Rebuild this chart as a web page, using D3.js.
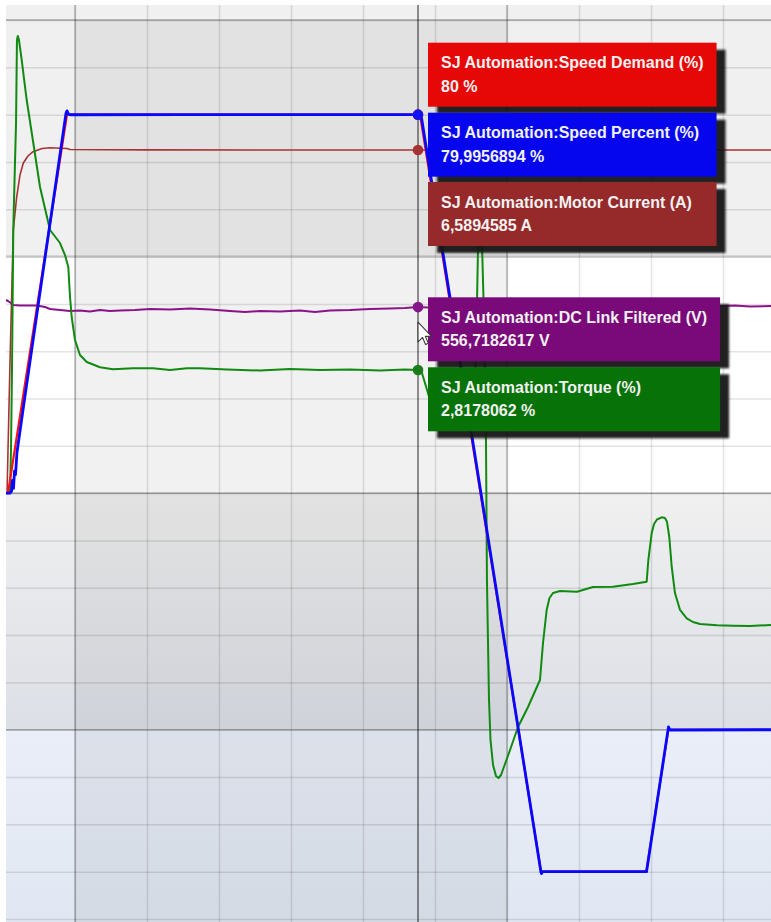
<!DOCTYPE html>
<html>
<head>
<meta charset="utf-8">
<script src="https://cdn.jsdelivr.net/npm/d3@7"></script>
<style>
  html, body { margin: 0; padding: 0; background: #ffffff; }
  svg { display: block; }
  .tip-text { font-family: "Liberation Sans", Arial, sans-serif; font-weight: bold; font-size: 16px; fill: #f1f1f1; }
</style>
</head>
<body>
<svg id="chart" width="771" height="922"></svg>
<script>
// ---- Trace data: time in seconds, values in each channel's own unit ----

// Speed Demand (%)
const speedDemandT = [0.042, 0.069, 0.889, 5.764, 5.792, 7.472, 8.935, 9.240, 10.667];
const speedDemandV = [0, 0, 80, 80, 80, -80, -80, -50, -50];

// Speed Percent (%)
const speedPercentT = [0.042, 0.097, 0.118, 0.132, 0.146, 0.160, 0.174, 0.194, 0.278, 0.625, 0.875, 0.889, 0.910, 0.931, 2.5, 4.0, 5.764, 5.806, 7.472, 7.479, 7.493, 8.938, 9.243, 9.264, 10.667];
const speedPercentV = [0, 0, 0.4, 2.7, 1.0, 4.7, 3.9, 8.6, 17.6, 54.1, 80.3, 80.8, 80.1, 79.98, 80.0, 79.99, 79.9956894, 79.99, -80.1, -80.4, -80.0, -80.0, -49.4, -50.06, -50.0];

// Motor Current (A)
const motorCurrentT = [0.042, 0.056, 0.097, 0.143, 0.190, 0.236, 0.282, 0.347, 0.417, 0.542, 0.653, 0.889, 0.931, 2.0, 3.5, 5.764, 7.0, 9.0, 10.667];
const motorCurrentV = [0, 0, 2.497, 5.052, 5.686, 6.109, 6.339, 6.474, 6.557, 6.618, 6.633, 6.618, 6.599, 6.592, 6.588, 6.5894585, 6.590, 6.588, 6.589];

// DC Link Filtered (V)
const dcLinkT = [0.042, 0.069, 0.111, 0.139, 0.236, 0.472, 0.583, 0.653, 0.792, 0.931, 1.069, 1.208, 1.347, 1.486, 1.625, 1.833, 2.042, 2.319, 2.597, 2.875, 3.153, 3.361, 3.569, 3.847, 4.125, 4.333, 4.542, 4.819, 5.097, 5.375, 5.583, 5.764, 5.903, 8.292, 9.958, 10.167, 10.375, 10.667];
const dcLinkV = [558.22, 558.01, 557.59, 557.17, 557.06, 557.06, 556.74, 556.32, 556.11, 555.90, 556.00, 555.79, 556.11, 555.90, 556.00, 556.11, 556.32, 556.21, 556.42, 556.21, 555.90, 555.68, 555.90, 555.79, 556.00, 555.68, 556.00, 556.11, 556.32, 556.42, 556.53, 556.7182617, 556.63, 556.74, 556.95, 557.06, 556.84, 556.95];

// Torque (%)
const torqueT = [0.042, 0.097, 0.111, 0.125, 0.143, 0.153, 0.181, 0.194, 0.206, 0.222, 0.260, 0.329, 0.421, 0.514, 0.653, 0.792, 0.861, 0.907, 0.931, 0.954, 1.000, 1.069, 1.163, 1.347, 1.528, 1.806, 2.083, 2.319, 2.556, 2.736, 3.111, 3.569, 3.986, 4.403, 4.819, 5.236, 5.583, 5.764,
  5.819, 5.931, 6.028, 6.208, 6.417, 6.542, 6.576, 6.597, 6.625, 6.653, 6.674, 6.708, 6.722, 6.750, 6.771, 6.806, 6.847, 6.882, 6.917, 6.972, 7.042, 7.153, 7.292, 7.458, 7.500, 7.551, 7.590, 7.639, 7.736, 7.972, 8.194, 8.472, 8.750, 8.940, 8.963, 9.010, 9.042, 9.083, 9.149, 9.194, 9.222, 9.254, 9.288, 9.333, 9.403, 9.496, 9.583, 9.681, 9.917, 10.139, 10.375, 10.667];
const torqueV = [0, 0, 0.985, 2.818, 6.025, 6.712, 8.476, 10.377, 10.469, 10.377, 9.919, 9.003, 8.018, 7.010, 6.025, 5.727, 5.452, 5.177, 4.490, 4.032, 3.505, 3.161, 3.001, 2.880, 2.834, 2.857, 2.857, 2.818, 2.857, 2.857, 2.829, 2.806, 2.841, 2.818, 2.829, 2.806, 2.829, 2.8178062,
  2.749, 2.131, 1.558, 1.489, 1.512, 1.535, 3.734, 5.567, 6.369, 5.681, 4.421, 1.214, -2.062, -4.742, -5.658, -6.231, -6.483, -6.529, -6.460, -6.208, -5.887, -5.361, -4.902, -4.284, -3.436, -2.680, -2.405, -2.291, -2.245, -2.261, -2.153, -2.146, -2.087, -2.032, -1.535, -0.916, -0.710, -0.607, -0.557, -0.573, -0.657, -1.008, -1.695, -2.291, -2.680, -2.870, -2.955, -3.001, -3.031, -3.040, -3.047, -3.024];

// Channel names, units and the readout at the cursor
const channelNames = ["Speed Demand", "Speed Percent", "Motor Current", "DC Link Filtered", "Torque"];
const channelUnits = ["%", "%", "A", "V", "%"];
const cursorTime = 5.764;
const cursorValues = [80, 79.9956894, 6.5894585, 556.7182617, 2.8178062];

// Time grid and highlighted time span
const timeTicks = [1, 2, 3, 4, 5, 6, 7, 8, 9, 10];
const speedTicks = d3.range(-90, 101, 10);
const bandEdges = [100, 50, 0, -50];
const highlightSpan = [1, 7];

// ---- Layout ----
const W = 771, H = 922;
const plotLeft = 6, plotTop = 5, plotRight = 771, plotBottom = 922;

const x = d3.scaleLinear().domain([0, 10.75]).range([3, 777]);
const ySpeed = d3.scaleLinear().domain([-90, 100]).range([919, 20]);
const yTorque = d3.scaleLinear().domain([-9.759, 10.836]).range([919, 20]);
const yCurrent = d3.scaleLinear().domain([-8.1835, 9.0865]).range([919, 20]);
const yDC = d3.scaleLinear().domain([427.4, 617.4]).range([919, 20]);

const svg = d3.select("#chart");
const defs = svg.append("defs");

defs.append("clipPath").attr("id", "plotClip")
  .append("rect").attr("x", plotLeft).attr("y", plotTop)
  .attr("width", plotRight - plotLeft).attr("height", plotBottom - plotTop);

function vGrad(id, c0, c1) {
  const g = defs.append("linearGradient").attr("id", id)
    .attr("x1", 0).attr("y1", 0).attr("x2", 0).attr("y2", 1);
  g.append("stop").attr("offset", "0%").attr("stop-color", c0);
  g.append("stop").attr("offset", "100%").attr("stop-color", c1);
}
vGrad("band3", "#f0f0f0", "#dcdfe6");
vGrad("band4", "#e9eef8", "#e1e7f2");

const shadow = defs.append("filter").attr("id", "tipShadow")
  .attr("x", "-10%").attr("y", "-20%").attr("width", "130%").attr("height", "160%");
shadow.append("feGaussianBlur").attr("stdDeviation", 1.3);

const plot = svg.append("g").attr("clip-path", "url(#plotClip)");

// Background bands, split on the speed scale
const bands = [
  { y0: plotTop, y1: ySpeed(50), fill: "#f0f0f0" },
  { y0: ySpeed(50), y1: ySpeed(0), fill: "#ffffff" },
  { y0: ySpeed(0), y1: ySpeed(-50), fill: "url(#band3)" },
  { y0: ySpeed(-50), y1: plotBottom, fill: "url(#band4)" }
];
plot.selectAll("rect.band").data(bands).join("rect").attr("class", "band")
  .attr("x", plotLeft).attr("width", plotRight - plotLeft)
  .attr("y", d => d.y0).attr("height", d => d.y1 - d.y0)
  .attr("fill", d => d.fill);

// Highlighted time span
plot.append("rect")
  .attr("x", x(highlightSpan[0])).attr("width", x(highlightSpan[1]) - x(highlightSpan[0]))
  .attr("y", ySpeed(100)).attr("height", plotBottom - ySpeed(100))
  .attr("fill", "rgba(0,0,0,0.056)");

// Grid from the library's axes
const hGrid = plot.append("g").attr("transform", `translate(${plotLeft},0)`)
  .call(d3.axisLeft(ySpeed).tickValues(speedTicks).tickSize(-(plotRight - plotLeft)).tickFormat(""));
hGrid.select(".domain").remove();
hGrid.selectAll(".tick line").attr("stroke", "rgba(0,0,0,0.11)").attr("stroke-width", 1.5);

const vGrid = plot.append("g").attr("transform", `translate(0,${plotTop})`)
  .call(d3.axisTop(x).tickValues(timeTicks).tickSize(-(plotBottom - plotTop)).tickFormat(""));
vGrid.select(".domain").remove();
vGrid.selectAll(".tick line").attr("stroke", "rgba(0,0,0,0.11)").attr("stroke-width", 1.5);

// Band boundaries
plot.selectAll("line.band-edge").data(bandEdges).join("line").attr("class", "band-edge")
  .attr("x1", plotLeft).attr("x2", plotRight)
  .attr("y1", d => ySpeed(d)).attr("y2", d => ySpeed(d))
  .attr("stroke", d => d === 50 ? "rgba(0,0,0,0.14)" : "rgba(0,0,0,0.28)")
  .attr("stroke-width", d => d === 50 ? 2.5 : 1.6);

// Edges of the highlighted span
plot.selectAll("line.span-edge").data(highlightSpan).join("line").attr("class", "span-edge")
  .attr("x1", d => x(d)).attr("x2", d => x(d))
  .attr("y1", plotTop).attr("y2", plotBottom)
  .attr("stroke", "rgba(0,0,0,0.25)").attr("stroke-width", 1.5);

// Cursor line
plot.append("line")
  .attr("x1", x(cursorTime)).attr("x2", x(cursorTime))
  .attr("y1", plotTop).attr("y2", plotBottom)
  .attr("stroke", "rgba(0,0,0,0.42)").attr("stroke-width", 2);

// ---- Traces ----
const zip = (t, v) => t.map((d, i) => [d, v[i]]);
const series = [
  { key: "current", data: zip(motorCurrentT, motorCurrentV), y: yCurrent, color: "#a83232", width: 1.6 },
  { key: "dc", data: zip(dcLinkT, dcLinkV), y: yDC, color: "#8a138a", width: 2 },
  { key: "torque", data: zip(torqueT, torqueV), y: yTorque, color: "#108a10", width: 2 },
  { key: "demand", data: zip(speedDemandT, speedDemandV), y: ySpeed, color: "#ff1010", width: 2.2 },
  { key: "speed", data: zip(speedPercentT, speedPercentV), y: ySpeed, color: "#0808ff", width: 2.8 }
];
series.forEach(s => {
  plot.append("path").datum(s.data)
    .attr("fill", "none").attr("stroke", s.color).attr("stroke-width", s.width)
    .attr("stroke-linejoin", "round")
    .attr("d", d3.line().x(d => x(d[0])).y(d => s.y(d[1])));
});

// ---- Cursor readout ----
const channelScales = [ySpeed, ySpeed, yCurrent, yDC, yTorque];
const dotColors = ["#e81010", "#1010f0", "#a43434", "#84168a", "#1a7d1a"];
const boxColors = ["#e60707", "#0606ee", "#962a2a", "#7a0a7a", "#077207"];
const cx = x(cursorTime);

cursorValues.forEach((v, i) => {
  plot.append("circle").attr("cx", cx).attr("cy", channelScales[i](v))
    .attr("r", 5.3).attr("fill", dotColors[i]);
});

const fmt = (v, u) => String(v).replace(".", ",") + " " + u;

// Readout boxes stacked beside the cursor, in two groups
const tipTop = [42.7, 112.7, 182, 297.3, 367.3];
const tipGroup = [0, 0, 0, 1, 1];
const tipH = 64, padX = 13;
const tipLayer = svg.append("g");

const tips = channelNames.map((name, i) => {
  const g = tipLayer.append("g").attr("transform", `translate(${cx + 10},${tipTop[i]})`);
  const sh = g.append("rect").attr("x", 9).attr("y", 7).attr("height", tipH)
    .attr("fill", "#151515").attr("opacity", 0.95).attr("filter", "url(#tipShadow)");
  const box = g.append("rect").attr("x", 0).attr("y", 0).attr("height", tipH)
    .attr("fill", boxColors[i]);
  const t1 = g.append("text").attr("class", "tip-text").attr("x", padX).attr("y", 25.5)
    .text("SJ Automation:" + name + " (" + channelUnits[i] + ")");
  g.append("text").attr("class", "tip-text").attr("x", padX).attr("y", 49)
    .text(fmt(cursorValues[i], channelUnits[i]));
  return { sh, box, w: t1.node().getComputedTextLength(), group: tipGroup[i] };
});
[0, 1].forEach(gi => {
  const members = tips.filter(t => t.group === gi);
  const w = d3.max(members, t => t.w) + 2 * padX;
  members.forEach(t => { t.sh.attr("width", w); t.box.attr("width", w); });
});

// Mouse pointer
svg.append("path")
  .attr("transform", `translate(${cx},${channelScales[3](cursorValues[3]) + 15}) scale(1.2)`)
  .attr("d", "M0,0 L0,16.5 L3.8,12.8 L6.3,18.6 L8.6,17.6 L6.1,11.9 L11.3,11.9 Z")
  .attr("fill", "#ffffff").attr("stroke", "#3a3a3a").attr("stroke-width", 0.9)
  .attr("stroke-linejoin", "round");
</script>
</body>
</html>
